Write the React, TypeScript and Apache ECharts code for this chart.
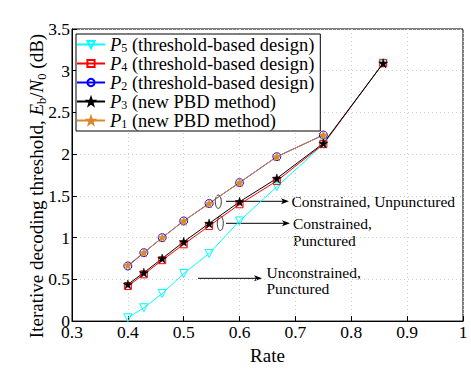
import React, { useEffect, useRef } from "react";
import * as echarts from "echarts";

const rates = [0.4, 0.4286, 0.4615, 0.5, 0.5455, 0.6, 0.6667, 0.75, 0.8571];
const ratesShort = [0.4, 0.4286, 0.4615, 0.5, 0.5455, 0.6, 0.6667, 0.75];
const p5 = [0.04, 0.16, 0.33, 0.57, 0.81, 1.2, 1.61, 2.12, 3.09];
const p4 = [0.42, 0.56, 0.73, 0.92, 1.14, 1.4, 1.68, 2.12, 3.09];
const p2 = [0.66, 0.82, 1.0, 1.2, 1.41, 1.66, 1.97, 2.23];
const p3 = [0.44, 0.58, 0.75, 0.95, 1.17, 1.43, 1.71, 2.13, 3.09];
const p1 = [0.67, 0.82, 1.0, 1.2, 1.41, 1.66, 1.97, 2.23];

const seriesNames = [
  "P5 (threshold-based design)",
  "P4 (threshold-based design)",
  "P2 (threshold-based design)",
  "P3 (new PBD method)",
  "P1 (new PBD method)",
];

const STAR =
  "path://M0,-10 L2.35,-3.24 L9.51,-3.09 L3.8,1.24 L5.88,8.09 L0,4 L-5.88,8.09 L-3.8,1.24 L-9.51,-3.09 L-2.35,-3.24 Z";

const FONT = "'Liberation Serif', 'Times New Roman', serif";

const zip = (xs: number[], ys: number[]) => ys.map((y, i) => [xs[i], y]);

export default function App() {
  const ref = useRef<HTMLDivElement>(null);
  useEffect(() => {
    if (!ref.current) return;
    const chart = echarts.init(ref.current, undefined, { renderer: "svg" });
    const mk = (
      name: string,
      color: string,
      xs: number[],
      ys: number[],
      symbol: string,
      size: number,
      filled: boolean,
      rotate = 0
    ) => ({
      name,
      type: "line",
      data: zip(xs, ys),
      symbol,
      symbolSize: size,
      symbolRotate: rotate,
      showAllSymbol: true,
      lineStyle: { color, width: 1 },
      itemStyle: filled
        ? { color, borderColor: color, borderWidth: 0.5 }
        : { color: "rgba(255,255,255,0)", borderColor: color, borderWidth: 1 },
      emphasis: { disabled: true },
    });
    const annText = (x: number, y: number, text: string) => ({
      type: "text",
      x,
      y,
      style: {
        text,
        fontFamily: FONT,
        fontSize: 15.5,
        fill: "#000",
        verticalAlign: "middle",
      },
    });
    const arrow = (x1: number, x2: number, y: number) => [
      { type: "line", shape: { x1, y1: y, x2: x2 - 5, y2: y }, style: { stroke: "#000", lineWidth: 1 } },
      {
        type: "polygon",
        shape: { points: [[x2, y], [x2 - 8, y - 3], [x2 - 6, y], [x2 - 8, y + 3]] },
        style: { fill: "#000" },
      },
    ];
    const sub = { fontFamily: FONT, fontSize: 12, verticalAlign: "bottom", color: "#000" };
    const option: any = {
      animation: false,
      backgroundColor: "#fff",
      textStyle: { fontFamily: FONT },
      grid: {
        left: 72,
        right: 8,
        top: 29,
        bottom: 37,
        show: true,
        borderColor: "#000",
        borderWidth: 1,
        backgroundColor: "#fff",
      },
      xAxis: {
        type: "value",
        min: 0.3,
        max: 1,
        interval: 0.1,
        name: "Rate",
        nameLocation: "middle",
        nameGap: 19,
        nameTextStyle: { fontFamily: FONT, fontSize: 19, color: "#000" },
        axisLine: { lineStyle: { color: "#000" } },
        axisTick: { inside: true, length: 5, lineStyle: { color: "#000" } },
        axisLabel: {
          fontFamily: FONT,
          fontSize: 17.5,
          color: "#000",
          margin: 2,
          formatter: (v: number) => String(Math.round(v * 10) / 10),
        },
        splitLine: { show: true, lineStyle: { color: "#cccccc", type: [1, 3], width: 1 } },
      },
      yAxis: {
        type: "value",
        min: 0,
        max: 3.5,
        interval: 0.5,
        axisLine: { show: true, lineStyle: { color: "#000" } },
        axisTick: { show: true, inside: true, length: 5, lineStyle: { color: "#000" } },
        axisLabel: {
          fontFamily: FONT,
          fontSize: 17.5,
          color: "#000",
          margin: 2,
          formatter: (v: number) => String(Math.round(v * 10) / 10),
        },
        splitLine: { show: true, lineStyle: { color: "#cccccc", type: [1, 3], width: 1 } },
      },
      legend: {
        orient: "vertical",
        left: 76,
        top: 34,
        padding: [1, 6, 1, 0],
        itemGap: 0,
        itemWidth: 28,
        itemHeight: 9,
        backgroundColor: "#fff",
        borderColor: "#000",
        borderWidth: 1,
        borderRadius: 0,
        data: seriesNames,
        formatter: (name: string) => {
          const m = name.match(/^P(\d) (.*)$/);
          if (!m) return name;
          return `{i|P}{s|${m[1]}}{n| ${m[2]}}`;
        },
        textStyle: {
          fontFamily: FONT,
          fontSize: 18.5,
          color: "#000",
          padding: [0, 0, 0, 0],
          rich: {
            n: { fontFamily: FONT, fontSize: 18.5, lineHeight: 19, verticalAlign: "middle", color: "#000" },
            i: { fontFamily: FONT, fontSize: 18.5, fontStyle: "italic", lineHeight: 19, verticalAlign: "middle", color: "#000" },
            s: { ...sub, fontSize: 12, lineHeight: 19 },
          },
        },
      },
      series: [
        mk(seriesNames[0], "#00ffff", rates, p5, "triangle", 8, false, 180),
        mk(seriesNames[1], "#ff0000", rates, p4, "rect", 7, false),
        mk(seriesNames[2], "#0000ff", ratesShort, p2, "circle", 8, false),
        mk(seriesNames[3], "#000000", rates, p3, STAR, 9, true),
        mk(seriesNames[4], "#d9882d", ratesShort, p1, STAR, 9, true),
      ],
      graphic: [
        {
          type: "text",
          x: 36,
          y: 186,
          rotation: Math.PI / 2,
          style: {
            text: "{n|Iterative decoding threshold, }{i|E}{s|b}{n|/}{i|N}{s|0}{n| (dB)}",
            align: "center",
            verticalAlign: "middle",
            fontFamily: FONT,
            fontSize: 19,
            fill: "#000",
            rich: {
              n: { fontFamily: FONT, fontSize: 19, lineHeight: 24, verticalAlign: "middle", fill: "#000" },
              i: { fontFamily: FONT, fontSize: 19, fontStyle: "italic", lineHeight: 24, verticalAlign: "middle", fill: "#000" },
              s: { fontFamily: FONT, fontSize: 12.5, lineHeight: 24, verticalAlign: "bottom", fill: "#000" },
            },
          },
        },
        {
          type: "ellipse",
          shape: { cx: 218.3, cy: 201.7, rx: 3, ry: 6.7 },
          style: { fill: "none", stroke: "#000", lineWidth: 0.8 },
        },
        {
          type: "ellipse",
          shape: { cx: 220.3, cy: 223.3, rx: 3, ry: 7.3 },
          style: { fill: "none", stroke: "#000", lineWidth: 0.8 },
        },
        ...arrow(226, 289, 201.3),
        ...arrow(226, 290, 223.3),
        ...arrow(198, 262, 278.3),
        annText(291.5, 201, "Constrained, Unpunctured"),
        annText(293, 223, "Constrained,"),
        annText(293, 240, "Punctured"),
        annText(266.5, 272.5, "Unconstrained,"),
        annText(266.5, 288.5, "Punctured"),
      ],
    };
    chart.setOption(option);
    return () => chart.dispose();
  }, []);
  return (
    <div
      ref={ref}
      style={{ position: "fixed", left: 0, top: 0, width: 471, height: 370 }}
    />
  );
}
